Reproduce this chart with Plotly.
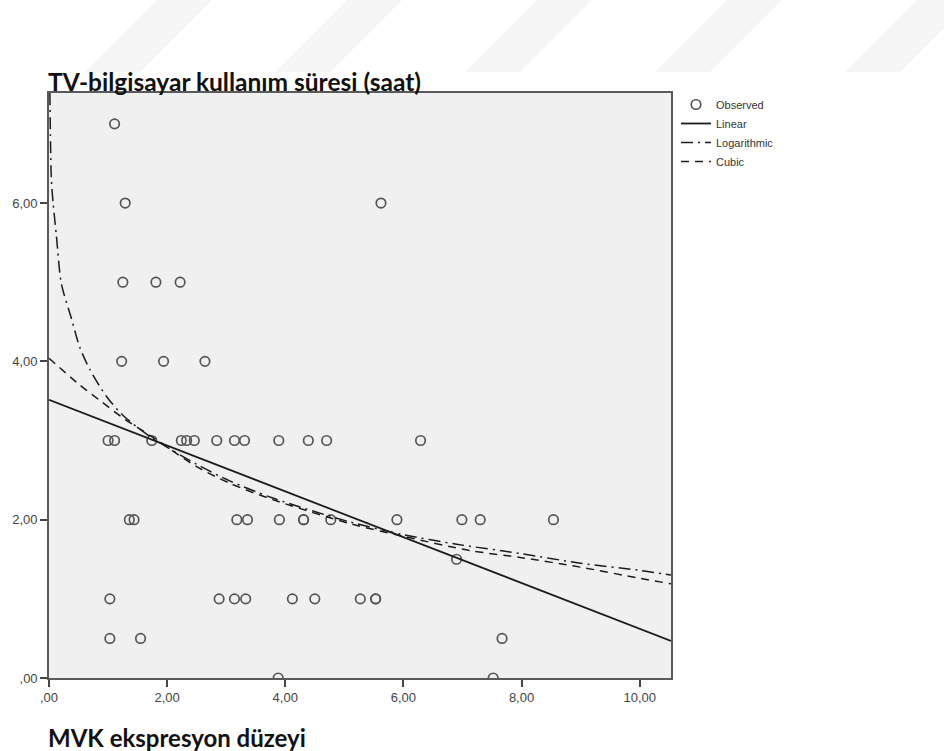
import plotly.graph_objects as go

# Observed cases: MVK expression level vs. daily TV/computer use (hours)
obs_x = [1.11,
         1.29, 5.62,
         1.25, 1.81, 2.22,
         1.23, 1.94, 2.64,
         1.00, 1.11, 1.74, 2.24, 2.33, 2.46, 2.84, 3.14, 3.31, 3.89, 4.39, 4.70, 6.29,
         1.36, 1.44, 3.18, 3.36, 3.90, 4.31, 4.31, 4.77, 5.89, 6.99, 7.30, 8.54,
         6.90,
         1.03, 2.88, 3.14, 3.33, 4.12, 4.50, 5.27, 5.53, 5.53,
         1.03, 1.55, 7.67,
         3.88, 7.52]
obs_y = [7.0,
         6.0, 6.0,
         5.0, 5.0, 5.0,
         4.0, 4.0, 4.0,
         3.0, 3.0, 3.0, 3.0, 3.0, 3.0, 3.0, 3.0, 3.0, 3.0, 3.0, 3.0, 3.0,
         2.0, 2.0, 2.0, 2.0, 2.0, 2.0, 2.0, 2.0, 2.0, 2.0, 2.0, 2.0,
         1.5,
         1.0, 1.0, 1.0, 1.0, 1.0, 1.0, 1.0, 1.0, 1.0,
         0.5, 0.5, 0.5,
         0.0, 0.0]

# Fitted curves, sampled along the x axis
lin_x = [0.0, 10.53]
lin_y = [3.515, 0.467]

log_x = [0.015, 0.04, 0.07, 0.125, 0.21, 0.38, 0.52, 0.69, 0.97, 1.25, 1.71,
         2.5, 3.06, 3.8, 5.1, 6.0, 6.9, 8.0, 9.0, 10.0, 10.53]
log_y = [7.39, 6.3, 6.0, 5.59, 4.98, 4.54, 4.18, 3.90, 3.56, 3.32, 3.05,
         2.70, 2.49, 2.27, 1.97, 1.81, 1.69, 1.57, 1.45, 1.36, 1.30]

cub_x = [0.0, 0.49, 0.89, 1.28, 1.74, 2.5, 3.06, 3.8, 5.1, 6.0, 7.13,
         8.0, 9.0, 10.0, 10.53]
cub_y = [4.04, 3.72, 3.49, 3.27, 3.05, 2.67, 2.46, 2.25, 1.95, 1.79, 1.61,
         1.52, 1.40, 1.26, 1.19]

x_ticks = [0, 2, 4, 6, 8, 10]
x_tick_text = [",00", "2,00", "4,00", "6,00", "8,00", "10,00"]
y_ticks = [0, 2, 4, 6]
y_tick_text = [",00", "2,00", "4,00", "6,00"]

y_title = "TV-bilgisayar kullanım süresi (saat)"
x_title = "MVK ekspresyon düzeyi"

W, H = 944, 751
L, R, T, B = 49, 273, 93, 73
PW, PH = W - L - R, H - T - B


def px(xp):
    return (xp - L) / PW


def py(yp):
    return (H - B - yp) / PH


ink = "#1c1c1c"
sans = "Liberation Sans, Arial, sans-serif"

fig = go.Figure()
fig.add_trace(go.Scatter(
    x=obs_x, y=obs_y, mode="markers", name="Observed",
    marker=dict(symbol="circle-open", size=9.5, color="#555555",
                line=dict(width=1.7, color="#555555")),
))
fig.add_trace(go.Scatter(
    x=lin_x, y=lin_y, mode="lines", name="Linear",
    line=dict(color=ink, width=1.8),
))
fig.add_trace(go.Scatter(
    x=log_x, y=log_y, mode="lines", name="Logarithmic",
    line=dict(color=ink, width=1.5, dash="12px,5px,2px,5px", shape="spline",
              smoothing=0.8),
))
fig.add_trace(go.Scatter(
    x=cub_x, y=cub_y, mode="lines", name="Cubic",
    line=dict(color=ink, width=1.5, dash="8px,6px", shape="spline",
              smoothing=0.8),
))

# faint diagonal bands across the page header
bands = []
for b0 in [85, 275, 465, 655, 845]:
    y_bot, y_top = 72, 0
    path = (f"M {px(b0)},{py(y_bot)} L {px(b0 + 55)},{py(y_bot)} "
            f"L {px(b0 + 127)},{py(y_top)} L {px(b0 + 72)},{py(y_top)} Z")
    bands.append(dict(type="path", path=path, xref="paper", yref="paper",
                      fillcolor="rgba(0,0,0,0.038)", line=dict(width=0),
                      layer="below"))

axis_common = dict(
    showgrid=False, zeroline=False, showline=True, mirror=True,
    linecolor="#5a5a5a", linewidth=1.6,
    ticks="outside", ticklen=7, tickwidth=1.5, tickcolor="#444444",
    tickfont=dict(family=sans, size=13, color="#454545"),
)

fig.update_layout(
    width=W, height=H,
    margin=dict(l=L, r=R, t=T, b=B),
    paper_bgcolor="white", plot_bgcolor="#F0F0F0",
    xaxis=dict(range=[0, 10.53], tickvals=x_ticks, ticktext=x_tick_text,
               **axis_common),
    yaxis=dict(range=[0, 7.39], tickvals=y_ticks, ticktext=y_tick_text,
               **axis_common),
    showlegend=True,
    legend=dict(x=px(676), y=py(90), xanchor="left", yanchor="top",
                font=dict(family=sans, size=11, color="#333333"),
                bgcolor="rgba(0,0,0,0)", tracegroupgap=0, itemwidth=30),
    shapes=bands,
    annotations=[
        dict(text=f"<b>{y_title}</b>", x=px(46), y=py(81), xref="paper",
             yref="paper", xanchor="left", yanchor="middle", showarrow=False,
             font=dict(family="Lato, Open Sans", size=24.5, color="#111111")),
        dict(text=f"<b>{x_title}</b>", x=px(46), y=py(737), xref="paper",
             yref="paper", xanchor="left", yanchor="middle", showarrow=False,
             font=dict(family="Lato, Open Sans", size=24, color="#111111")),
    ],
)

fig.write_html("out.html")
